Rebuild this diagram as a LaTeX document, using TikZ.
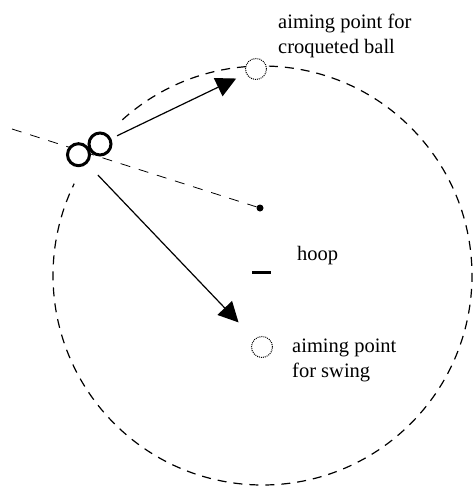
\documentclass[tikz,border=0pt]{standalone}
\usepackage{fontspec}
\setmainfont{Liberation Serif}
\usetikzlibrary{arrows.meta}
\begin{document}
\begin{tikzpicture}[x=1pt,y=-1pt,
  swingpath/.style={line width=1.2pt, dash pattern=on 9pt off 7pt},
  aimline/.style={line width=0.8pt, dash pattern=on 10pt off 9pt},
  ball/.style={circle, draw, line width=3pt, fill=white, minimum size=22pt, inner sep=0pt},
  target/.style={circle, draw, dash pattern=on 1pt off 1pt, line width=1pt, fill=white, minimum size=21pt, inner sep=0pt},
  shot/.style={line width=1.2pt, -{Triangle[length=20pt,width=20pt]}},
  note/.style={font=\fontsize{20.5}{24.5}\selectfont, align=left, inner sep=0pt}
]
\useasboundingbox (0,0) rectangle (472,487);

% hoop and the circle swept around it
\coordinate (hoopc) at (262.5,275.5);
\draw[line width=3pt] (252,272) -- (271,272);
\draw[swingpath] (hoopc) ++(228:209.5) arc[start angle=228, end angle=566, radius=209.5];

% peg point and the line through the balls
\node[circle, fill, inner sep=0pt, minimum size=7pt] (peg) at (260,208) {};
\coordinate (far) at (12,129);
\draw[aimline] (far) -- (peg);

% aiming points
\node[target] (tcroq) at (256,69) {};
\node[target] (tswing) at (262,347) {};

% the two balls in contact
\node[ball] (ballA) at (78.5,154.7) {};
\node[ball] (ballB) at (100,144) {};

% directions of the shot
\draw[shot, shorten <=6.5pt, shorten >=11pt] (ballB) -- (tcroq);
\draw[shot, shorten <=15.5pt, shorten >=23pt] (ballA) -- (tswing);

% labels (base anchor sits on the last line)
\node[note, anchor=base west] (lcroq) at (278,53) {aiming point for\\croqueted ball};
\node[note, anchor=base west] (lhoop) at (297,260) {hoop};
\node[note, anchor=base west] (lswing) at (292,377) {aiming point\\for swing};
\end{tikzpicture}
\end{document}
